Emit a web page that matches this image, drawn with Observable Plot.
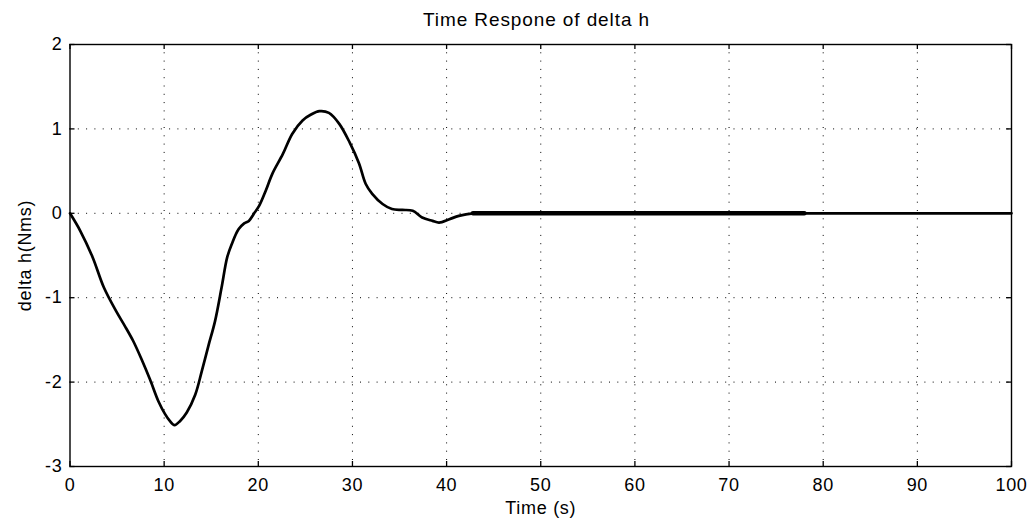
<!DOCTYPE html>
<html>
<head>
<meta charset="utf-8">
<script src="https://cdn.jsdelivr.net/npm/d3@7"></script>
<script src="https://cdn.jsdelivr.net/npm/@observablehq/plot@0.6"></script>
<style>
  html, body { margin: 0; padding: 0; background: #fff; }
  #wrap { position: relative; width: 1031px; height: 524px; }
  #title { position: absolute; left: 536.5px; top: 10px; transform: translateX(-50%);
           white-space: nowrap; line-height: 19px;
           font-family: "Liberation Sans", Arial, sans-serif;
           font-size: 19px; letter-spacing: 0.9px; color: #000; }
  #chart { position: absolute; left: 0; top: 30px; }
  #chart svg text { letter-spacing: 0.7px; }
</style>
</head>
<body>
<div id="wrap">
  <div id="title"></div>
  <div id="chart"></div>
</div>
<script>
const titleText = "Time Respone of delta h";
const xLabel = "Time (s)";
const yLabel = "delta h(Nms)";

const timeS = [0, 1.1, 2.4, 3.6, 4.9, 5.8, 6.7, 7.6, 8.5, 9.4, 10.1, 10.6, 11.1, 11.7, 12.4, 13.3, 14.0, 14.7, 15.4, 16.1, 16.7, 17.2, 17.9, 18.5, 19.0, 19.5, 20.1, 20.8, 21.5, 22.6, 23.6, 24.7, 25.6, 26.5, 27.5, 28.6, 29.7, 30.7, 31.4, 32.1, 33.2, 34.2, 35.3, 36.4, 37.4, 38.5, 39.2, 40.3, 41.3, 42.8, 45, 50, 60, 70, 80, 90, 100];
const deltaH = [0, -0.21, -0.52, -0.88, -1.16, -1.33, -1.51, -1.73, -1.97, -2.23, -2.38, -2.46, -2.51, -2.46, -2.36, -2.15, -1.87, -1.57, -1.28, -0.88, -0.52, -0.36, -0.19, -0.12, -0.09, -0.01, 0.09, 0.27, 0.47, 0.70, 0.94, 1.10, 1.17, 1.21, 1.19, 1.06, 0.84, 0.59, 0.35, 0.23, 0.11, 0.05, 0.04, 0.03, -0.05, -0.09, -0.11, -0.07, -0.03, 0, 0, 0, 0, 0, 0, 0, 0];

// dense (chattering) part of the settled response, drawn thicker
const denseTime = [42.8, 78];
const denseValue = [0, 0];

const xTicks = [0, 10, 20, 30, 40, 50, 60, 70, 80, 90, 100];
const yTicks = [-3, -2, -1, 0, 1, 2];
const xGrid = [10, 20, 30, 40, 50, 60, 70, 80, 90];
const yGrid = [-2, -1, 0, 1];

document.getElementById("title").textContent = titleText;

const series = timeS.map((t, i) => ({t, v: deltaH[i]}));
const dense = denseTime.map((t, i) => ({t, v: denseValue[i]}));

const W = 1031, H = 494;
const mT = 14, mB = 58, mL = 69.5, mR = 20;
const innerH = H - mT - mB, innerW = W - mL - mR;
const tickLen = 5;
const fmt = d => String(d);

const chart = Plot.plot({
  width: W,
  height: H,
  marginTop: mT,
  marginBottom: mB,
  marginLeft: mL,
  marginRight: mR,
  style: {fontFamily: '"Liberation Sans", Arial, sans-serif', fontSize: "18px", color: "#000", background: "#fff"},
  x: {domain: [0, 100]},
  y: {domain: [-3, 2]},
  marks: [
    Plot.ruleX(xGrid, {stroke: "#000", strokeWidth: 1, strokeDasharray: "1,7.3"}),
    Plot.ruleY(yGrid, {stroke: "#000", strokeWidth: 1, strokeDasharray: "1,7.3"}),
    Plot.ruleX(xTicks, {stroke: "#000", strokeWidth: 1.3, insetTop: innerH - tickLen}),
    Plot.ruleX(xTicks, {stroke: "#000", strokeWidth: 1.3, insetBottom: innerH - tickLen}),
    Plot.ruleY(yTicks, {stroke: "#000", strokeWidth: 1.3, insetRight: innerW - tickLen}),
    Plot.ruleY(yTicks, {stroke: "#000", strokeWidth: 1.3, insetLeft: innerW - tickLen}),
    Plot.frame({stroke: "#000", strokeWidth: 1.4}),
    Plot.axisX(xTicks, {tickSize: 0, tickPadding: 12, tickFormat: fmt, label: xLabel, labelAnchor: "center", labelArrow: false, labelOffset: 47}),
    Plot.axisY(yTicks, {tickSize: 0, tickPadding: 7.5, tickFormat: fmt, label: yLabel, labelAnchor: "center", labelArrow: false, labelOffset: 52}),
    Plot.line(series, {x: "t", y: "v", stroke: "#000", strokeWidth: 2.7, curve: "catmull-rom"}),
    Plot.line(dense, {x: "t", y: "v", stroke: "#000", strokeWidth: 4.5})
  ]
});
document.getElementById("chart").appendChild(chart);
</script>
</body>
</html>
